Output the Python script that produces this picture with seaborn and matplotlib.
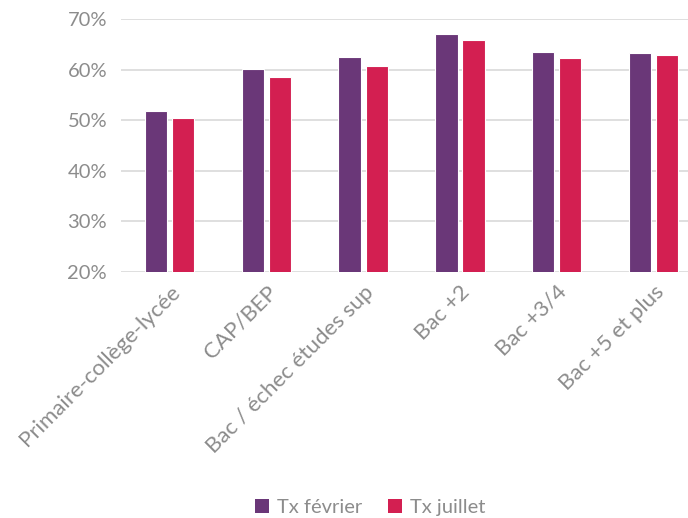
import matplotlib
matplotlib.use("Agg")
import matplotlib.pyplot as plt
import seaborn as sns
import pandas as pd
from matplotlib.ticker import FuncFormatter
from matplotlib.patches import Patch

categories = ["Primaire-collège-lycée", "CAP/BEP", "Bac / échec études sup",
              "Bac +2", "Bac +3/4", "Bac +5 et plus"]
tx_fevrier = [0.518, 0.602, 0.624, 0.671, 0.635, 0.632]
tx_juillet = [0.504, 0.586, 0.608, 0.658, 0.623, 0.628]
series_names = ["Tx février", "Tx juillet"]
colors = ["#6A3778", "#D31F51"]

df = pd.DataFrame({
    "cat": categories * 2,
    "serie": [series_names[0]] * len(categories) + [series_names[1]] * len(categories),
    "val": tx_fevrier + tx_juillet,
})

sns.set_theme(style="white")
plt.rcParams["font.family"] = ["Lato", "DejaVu Sans"]
grey = "#8C8C8C"

fig = plt.figure(figsize=(6.88, 5.18), dpi=100)
ax = fig.add_axes([121 / 688, 1 - 272 / 518, 1 - 121 / 688, (272 - 19) / 518])

sns.barplot(data=df, x="cat", y="val", hue="serie", palette=colors,
            width=0.56, gap=0.18, ax=ax, legend=False, saturation=1,
            edgecolor="white", linewidth=0.8)

ax.set_ylim(0.2, 0.70)
ax.set_xlim(-0.5, 5.355)
ax.set_yticks([0.2, 0.3, 0.4, 0.5, 0.6, 0.7])
ax.yaxis.set_major_formatter(FuncFormatter(lambda v, p: f"{v*100:.0f}%"))
ax.yaxis.grid(True, color="#D9D9D9", linewidth=1.2, zorder=0)
ax.set_axisbelow(True)
for s in ax.spines.values():
    s.set_visible(False)
ax.set_xlabel("")
ax.set_ylabel("")
ax.tick_params(axis="y", labelsize=14.5, labelcolor=grey, length=0, pad=10)
ax.tick_params(axis="x", labelsize=16, labelcolor=grey, length=0, pad=7)
for lab in ax.get_xticklabels():
    lab.set_rotation(45)
    lab.set_ha("right")
    lab.set_rotation_mode("anchor")

handles = [Patch(facecolor=c, edgecolor="none") for c in colors]
fig.legend(handles, series_names, loc="center", bbox_to_anchor=(0.538, 0.021),
           ncol=2, frameon=False, fontsize=14.5, labelcolor=grey,
           handlelength=0.7, handleheight=0.7, handletextpad=0.4, columnspacing=1.3)

fig.savefig("out.png", dpi=100)
